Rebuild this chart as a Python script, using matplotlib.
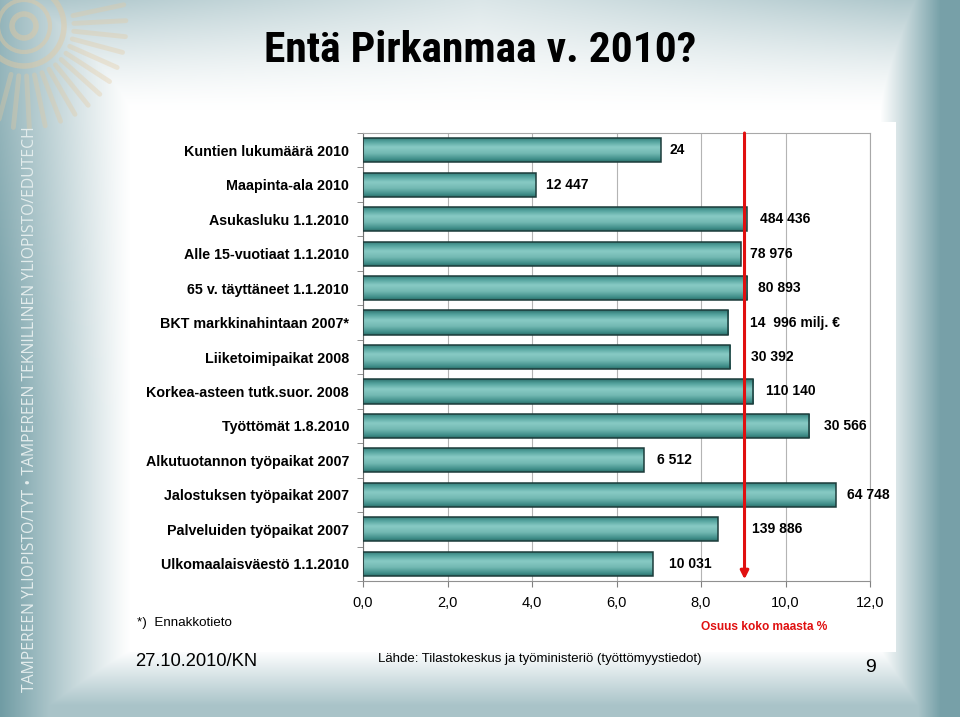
import numpy as np
import matplotlib

matplotlib.use("Agg")
import matplotlib.pyplot as plt
from matplotlib.colors import LinearSegmentedColormap
from matplotlib.patches import Rectangle, Circle

# Pirkanmaa share of the whole country (%), and the absolute figures shown as labels
categories = [
    "Kuntien lukumäärä 2010",
    "Maapinta-ala 2010",
    "Asukasluku 1.1.2010",
    "Alle 15-vuotiaat 1.1.2010",
    "65 v. täyttäneet 1.1.2010",
    "BKT markkinahintaan 2007*",
    "Liiketoimipaikat 2008",
    "Korkea-asteen tutk.suor. 2008",
    "Työttömät 1.8.2010",
    "Alkutuotannon työpaikat 2007",
    "Jalostuksen työpaikat 2007",
    "Palveluiden työpaikat 2007",
    "Ulkomaalaisväestö 1.1.2010",
]
share_pct = [7.05, 4.09, 9.08, 8.94, 9.10, 8.64, 8.69, 9.24, 10.56, 6.65, 11.19, 8.40, 6.86]
value_labels = [
    "24", "12 447", "484 436", "78 976", "80 893", "14  996 milj. €", "30 392",
    "110 140", "30 566", "6 512", "64 748", "139 886", "10 031",
]
population_share = 9.03  # red reference line
x_ticks = [0, 2, 4, 6, 8, 10, 12]

# label nudges (pixels right of bar end) so they clear the red line
label_nudge = [9, 10, 13, 9, 11, 22, 21, 13, 15, 13, 11, 34, 16]

W, H = 960, 717
fig = plt.figure(figsize=(W / 100, H / 100), dpi=100)

# ---- slide background in pixel coordinates ----
bg = fig.add_axes([0, 0, 1, 1], zorder=-5)
bg.set_xlim(0, W)
bg.set_ylim(H, 0)
bg.axis("off")

xx, yy = np.meshgrid(np.arange(W), np.arange(H))
wl = np.clip(1 - xx / 130, 0, 1) ** 1.1 * (0.75 + 0.25 * np.clip((yy - 120) / 300, 0, 1))
wr = np.clip((xx - 880) / 60, 0, 1) * 0.95
wb = np.clip((yy - 650) / 55, 0, 1) * 0.6
wt = np.clip((110 - yy) / 110, 0, 1) ** 1.4 * 0.55
wt *= 0.45 + 0.55 * np.clip(np.abs(xx - 480) / 420, 0, 1)
w = np.clip(np.maximum.reduce([wl, wr, wb, wt]), 0, 1)
teal = np.array([112, 156, 164]) / 255
img = 1 - w[..., None] * (1 - teal)
bg.imshow(img, extent=[0, W, H, 0], aspect="auto", interpolation="bilinear")

# university emblem, top-left
tan = "#e4c99f"
cx, cy = 24, 26
for r, lw in [(12, 4), (26, 3), (40, 4)]:
    bg.add_patch(Circle((cx, cy), r, fill=False, ec=tan, lw=lw, alpha=0.45))
for ang in np.deg2rad(np.arange(-12, 112, 9)):
    bg.plot([cx + 50 * np.cos(ang), cx + 102 * np.cos(ang)],
            [cy + 50 * np.sin(ang), cy + 102 * np.sin(ang)],
            color=tan, lw=3.5, alpha=0.35, solid_capstyle="round")

bg.add_patch(Rectangle((130, 122), 766, 530, fc="white", ec="none"))

bg.text(30, 409, "TAMPEREEN YLIOPISTO/TYT • TAMPEREEN TEKNILLINEN YLIOPISTO/EDUTECH",
        rotation=90, ha="center", va="center", color="#e4eded", fontsize=11.3,
        family=["Open Sans", "DejaVu Sans"])
bg.text(480, 51, "Entä Pirkanmaa v. 2010?", ha="center", va="center",
        fontsize=31.3, fontweight="bold",
        family=["Roboto Condensed", "Liberation Sans Narrow", "Liberation Sans"])
bg.text(137, 623, "*)  Ennakkotieto", ha="left", va="center", fontsize=9.6,
        family="Liberation Sans")
bg.text(135, 661, "27.10.2010/KN", ha="left", va="center", fontsize=13.2,
        family="Liberation Sans")
bg.text(378, 659, "Lähde: Tilastokeskus ja työministeriö (työttömyystiedot)",
        ha="left", va="center", fontsize=9.5, family="Liberation Sans")
bg.text(870, 668, "9", ha="center", va="center", fontsize=14, family="Liberation Sans")
bg.text(764, 627, "Osuus koko maasta %", ha="center", va="center", fontsize=8.6,
        fontweight="bold", color="#e01010", family="Liberation Sans")

# ---- bar chart ----
ax = fig.add_axes([363 / W, 1 - 581 / H, (870 - 363) / W, (581 - 133) / H])
ax.set_facecolor("none")

ypos = np.arange(len(categories))
bars = ax.barh(ypos, share_pct, height=0.7, facecolor="none",
               edgecolor="#1c3c3b", linewidth=1.1, zorder=3)

bar_cmap = LinearSegmentedColormap.from_list(
    "cyl", [(0.0, "#2f726e"), (0.15, "#4e9e99"), (0.4, "#88cbc5"),
            (0.65, "#73b9b3"), (0.9, "#3e8d88"), (1.0, "#2c6c68")])
grad = np.linspace(0, 1, 64).reshape(-1, 1)
for b in bars:
    x0, y0, bw, bh = b.get_x(), b.get_y(), b.get_width(), b.get_height()
    im = ax.imshow(grad, cmap=bar_cmap, extent=[x0, x0 + bw, y0 + bh, y0],
                   aspect="auto", interpolation="bicubic", zorder=2.5)
    im.set_clip_path(b)

for b, txt, dx in zip(bars, value_labels, label_nudge):
    ax.annotate(txt, (b.get_width(), b.get_y() + b.get_height() / 2),
                xytext=(dx, 0), textcoords="offset pixels", ha="left", va="center",
                fontsize=10, fontweight="bold", family="Liberation Sans", zorder=5)

ax.annotate("", xy=(population_share, 12.45), xytext=(population_share, -0.5),
            arrowprops=dict(arrowstyle="-|>", color="#e01010", lw=2.2,
                            mutation_scale=12, shrinkA=0, shrinkB=0),
            zorder=6)

ax.set_xlim(0, 12)
ax.set_ylim(len(categories) - 0.5, -0.5)
ax.set_xticks(x_ticks)
ax.set_xticklabels([f"{t:.1f}".replace(".", ",") for t in x_ticks],
                   fontsize=10.5, family="Liberation Sans")
ax.set_yticks(ypos)
ax.set_yticklabels(categories, fontsize=10.3, fontweight="bold", family="Liberation Sans")
ax.set_yticks(np.arange(len(categories) + 1) - 0.5, minor=True)
ax.tick_params(axis="y", which="major", length=0, pad=10)
ax.tick_params(axis="y", which="minor", length=4, color="#808080")
ax.tick_params(axis="x", length=4, color="#808080", pad=7)
ax.grid(axis="x", color="#b4b4b4", lw=0.8, zorder=0)
ax.set_axisbelow(True)
for side in ["top", "right"]:
    ax.spines[side].set_color("#a8a8a8")
ax.spines["left"].set_color("#707070")
ax.spines["bottom"].set_color("#909090")

fig.savefig("out.png", dpi=100)
